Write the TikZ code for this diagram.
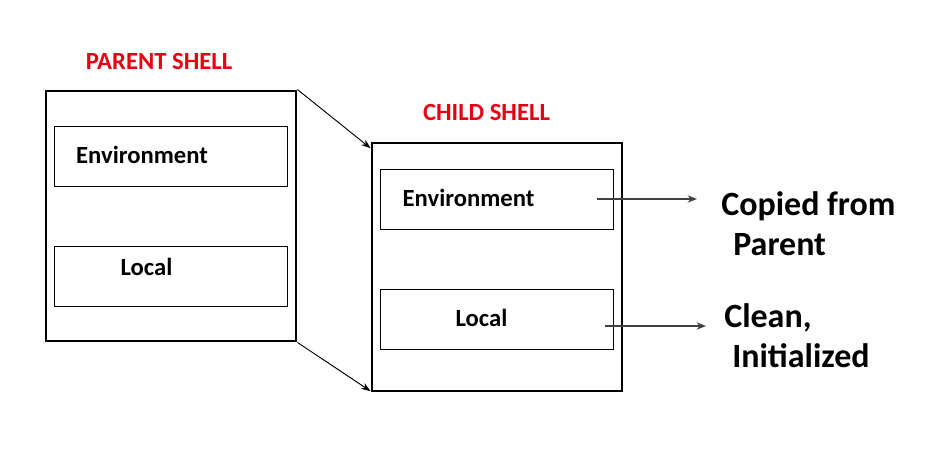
\documentclass[tikz,border=0pt]{standalone}
\usepackage{fontspec}
\setmainfont{Carlito}
\usepackage{xcolor}
\usepackage{tikz}
\usetikzlibrary{arrows.meta}
\definecolor{shellred}{RGB}{230,0,18}
\definecolor{arrowgrey}{RGB}{64,64,64}

\begin{document}
\begin{tikzpicture}[x=0.75pt, y=-0.75pt,
    shell/.style={draw, line width=2.2pt, minimum width=187.5pt, minimum height=187.5pt, inner sep=0pt},
    part/.style={draw, line width=0.6pt, minimum width=174.75pt, minimum height=45pt, inner sep=0pt},
    title/.style={text=shellred, font=\fontsize{18.5}{22}\selectfont\bfseries, inner sep=0pt},
    label/.style={font=\fontsize{18.5}{22}\selectfont\bfseries, inner sep=0pt},
    note/.style={font=\fontsize{25.5}{30}\selectfont\bfseries, align=left, anchor=west, inner sep=0pt},
    spawn/.style={-{Stealth[length=7pt,width=5pt]}, line width=0.7pt},
    arrow/.style={-{Stealth[length=7pt,width=5.5pt]}, line width=1.8pt, arrowgrey}
]
    \useasboundingbox (0,0) rectangle (929,457);

    % parent shell
    \node[title] (ptitle) at (159, 61) {PARENT SHELL};
    \node[shell] (parent) at (171, 216) {};
    \node[part] (penv) at (170.5, 156) {};
    \node[part] (ploc) at (170.5, 276) {};
    \node[label] at (142, 155) {Environment};
    \node[label] at (146.5, 267) {Local};

    % child shell
    \node[title] (ctitle) at (486.5, 112) {CHILD SHELL};
    \node[shell, minimum height=186pt] (child) at (497, 267) {};
    \node[part] (cenv) at (496.5, 199) {};
    \node[part] (cloc) at (496.5, 319) {};
    \node[label] at (468.5, 198) {Environment};
    \node[label] at (481.5, 318) {Local};

    % notes
    \node[note] (copied) at (721, 224) {Copied from\\\hspace{9pt}Parent};
    \node[note] (clean) at (724, 336) {Clean,\\\hspace{6pt}Initialized};
    \coordinate (copyend) at (697, 199);
    \coordinate (cleanend) at (706, 326);

    \draw[spawn] (parent.north east) -- ([yshift=-5pt]child.north west);
    \draw[spawn] (parent.south east) -- ([yshift=1pt]child.south west);
    \draw[arrow] ([xshift=-12pt]cenv.east) -- (copyend);
    \draw[arrow] ([xshift=-6pt, yshift=-5.25pt]cloc.east) -- (cleanend);
\end{tikzpicture}
\end{document}
